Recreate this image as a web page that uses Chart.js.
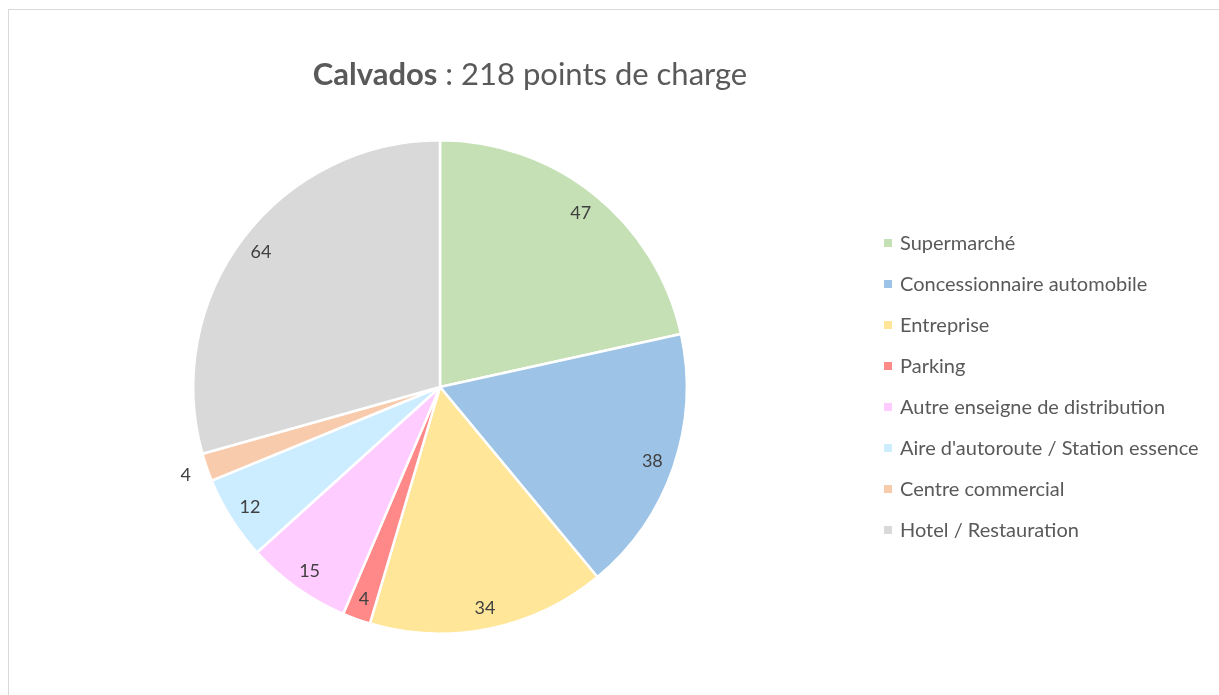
<!DOCTYPE html>
<html lang="fr">
<head>
<meta charset="UTF-8" />
<title>Calvados : 218 points de charge</title>
<script src="https://cdn.jsdelivr.net/npm/chart.js"></script>
<style>
  html, body { margin: 0; padding: 0; background: #fff; overflow: hidden; }
  #frame { position: absolute; left: 8px; top: 9px; width: 1230px; height: 720px;
           border: 1px solid #d9d9d9; box-sizing: border-box; }
  #title { position: absolute; left: 0; width: 1060px; top: 53px; text-align: center;
           font-family: Lato, sans-serif; font-size: 31px; line-height: 40px; color: #595959; }
  #wrap { position: absolute; left: 0; top: 0; width: 1219px; height: 695px; }
</style>
</head>
<body>
<div id="frame"></div>
<div id="wrap"><canvas id="pie"></canvas></div>
<div id="title"><b>Calvados</b> : 218 points de charge</div>
<script>
  // data
  const categories = ['Supermarché', 'Concessionnaire automobile', 'Entreprise', 'Parking',
    'Autre enseigne de distribution', "Aire d'autoroute / Station essence",
    'Centre commercial', 'Hotel / Restauration'];
  const points = [47, 38, 34, 4, 15, 12, 4, 64];
  const colors = ['#C5E0B4', '#9DC3E6', '#FFE699', '#FF8989', '#FFCCFF', '#CCECFF', '#F8CBAD', '#D9D9D9'];

  // value labels: inside at ~0.9 radius, the thin "Centre commercial" slice outside
  const valueLabels = {
    id: 'valueLabels',
    afterDatasetsDraw(chart) {
      const ctx = chart.ctx;
      const meta = chart.getDatasetMeta(0);
      ctx.save();
      ctx.font = '18px Lato, sans-serif';
      ctx.fillStyle = '#404040';
      ctx.textAlign = 'center';
      ctx.textBaseline = 'middle';
      meta.data.forEach((arc, i) => {
        const mid = (arc.startAngle + arc.endAngle) / 2;
        const r = i === 6 ? arc.outerRadius * 1.09 : arc.outerRadius * 0.91;
        ctx.fillText(chart.data.datasets[0].data[i], arc.x + Math.cos(mid) * r, arc.y + Math.sin(mid) * r + 1);
      });
      ctx.restore();
    }
  };

  // legend drawn on the right, one row per category
  const sideLegend = {
    id: 'sideLegend',
    afterDraw(chart) {
      const ctx = chart.ctx;
      ctx.save();
      ctx.font = '20px Lato, sans-serif';
      ctx.textBaseline = 'middle';
      chart.data.labels.forEach((lab, i) => {
        const y = 243 + i * 41;
        ctx.fillStyle = chart.data.datasets[0].backgroundColor[i];
        ctx.fillRect(884, y - 4, 8, 8);
        ctx.fillStyle = '#595959';
        ctx.fillText(lab, 900, y + 1);
      });
      ctx.restore();
    }
  };

  new Chart(document.getElementById('pie'), {
    type: 'pie',
    data: {
      labels: categories,
      datasets: [{
        data: points,
        backgroundColor: colors,
        borderColor: '#ffffff',
        borderWidth: 2.5
      }]
    },
    options: {
      responsive: true,
      maintainAspectRatio: false,
      animation: false,
      layout: { padding: { left: 192, right: 531, top: 139, bottom: 60 } },
      plugins: { legend: { display: false }, tooltip: { enabled: false } }
    },
    plugins: [valueLabels, sideLegend]
  });
</script>
</body>
</html>
